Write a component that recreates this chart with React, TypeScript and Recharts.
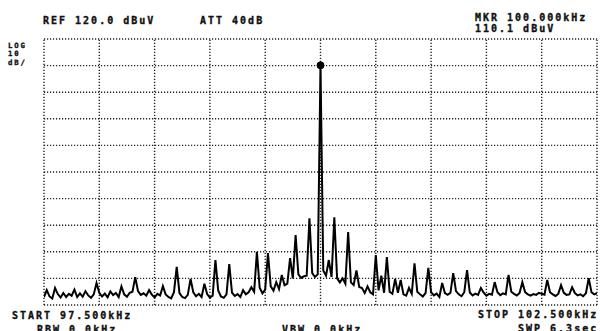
import React from "react";
import { LineChart, Line, XAxis, YAxis, ReferenceLine, ReferenceDot } from "recharts";

const START_KHZ = 97.5;
const STOP_KHZ = 102.5;
const REF_DBUV = 120;
const BOTTOM_DBUV = 20;

const freqGridTicks = [97.5, 98, 98.5, 99, 99.5, 100, 100.5, 101, 101.5, 102, 102.5];
const levelGridTicks = [120, 110, 100, 90, 80, 70, 60, 50, 40, 30, 20];

// trace levels in dBuV, 201 sweep points from START to STOP
const traceLevels = [
  23.0, 25.6, 23.2, 22.4, 26.4, 24.1, 22.8, 24.5, 23.0, 24.2,
  23.5, 25.8, 23.0, 24.4, 23.1, 25.2, 23.6, 22.7, 24.0, 28.3,
  24.6, 23.2, 24.3, 22.9, 25.1, 23.7, 24.5, 23.0, 27.0, 24.0,
  23.1, 24.6, 25.0, 30.5, 25.2, 23.8, 24.4, 23.5, 25.6, 23.9,
  22.8, 24.2, 23.6, 27.1, 24.0, 23.0, 22.5, 24.8, 34.3, 24.5,
  23.0, 22.6, 23.8, 29.8, 24.8, 23.3, 24.2, 23.0, 28.0, 24.1,
  22.8, 23.5, 36.9, 25.5, 23.2, 22.7, 24.0, 35.4, 24.6, 23.4,
  24.1, 23.0, 25.6, 24.0, 24.8, 26.7, 25.0, 40.0, 26.5, 24.4,
  25.8, 39.5, 27.0, 25.4, 28.6, 26.0, 31.3, 27.4, 28.0, 37.6,
  30.0, 46.3, 31.5, 30.2, 30.8, 31.0, 52.6, 32.0, 30.5, 31.5,
  110.1, 33.0, 31.0, 36.9, 30.5, 53.0, 30.0, 28.5, 30.0, 28.0,
  47.4, 28.5, 27.5, 33.0, 26.8, 26.4, 24.5, 27.0, 24.8, 24.0,
  38.8, 25.5, 31.0, 24.6, 38.0, 25.0, 24.2, 29.8, 24.6, 29.4,
  24.0, 23.5, 26.4, 24.2, 35.7, 25.0, 24.0, 23.2, 24.5, 34.0,
  24.8, 23.6, 24.3, 23.0, 28.3, 24.5, 23.8, 24.6, 32.0, 25.2,
  24.0, 23.3, 24.8, 33.1, 24.7, 23.6, 24.3, 23.8, 26.4, 24.6,
  23.5, 24.2, 23.9, 28.6, 24.8, 23.7, 24.4, 24.0, 31.3, 25.0,
  24.2, 23.6, 24.5, 28.6, 24.8, 24.0, 23.5, 24.1, 23.8, 24.6,
  24.2, 23.9, 29.4, 24.8, 24.0, 23.4, 24.2, 27.5, 24.6, 23.8,
  24.0, 26.7, 24.5, 23.6, 24.0, 23.3, 24.4, 30.1, 24.8, 24.0,
  24.5,
];

const markerFreq = 100.0;
const markerLevel = 110.1;

const headerLeft = "REF 120.0 dBuV";
const headerAtt = "ATT 40dB";
const markerLine1 = "MKR 100.000kHz";
const markerLine2 = "110.1 dBuV";
const scaleLabels = ["LOG", "10", "dB/"];
const startLabel = "START 97.500kHz";
const stopLabel = "STOP 102.500kHz";
const rbwLabel = "RBW 0.0kHz";
const vbwLabel = "VBW 0.0kHz";
const swpLabel = "SWP 6.3sec";

const data = traceLevels.map((v, i) => ({
  f: START_KHZ + (i * (STOP_KHZ - START_KHZ)) / (traceLevels.length - 1),
  v,
}));

const txt: React.CSSProperties = {
  fontFamily: "'DejaVu Sans Mono', monospace",
  fontWeight: 700,
  fontSize: 10,
  letterSpacing: 2,
  fill: "#111",
  stroke: "#111",
  strokeWidth: 0.35,
};

export default function App() {
  return (
    <div style={{ position: "absolute", left: 0, top: 0, width: 600, height: 331, background: "#fff", overflow: "hidden" }}>
      <LineChart
        width={600}
        height={331}
        data={data}
        margin={{ top: 39, right: 3, bottom: 26, left: 44 }}
      >
        <XAxis dataKey="f" type="number" domain={[START_KHZ, STOP_KHZ]} hide allowDataOverflow />
        <YAxis type="number" domain={[BOTTOM_DBUV, REF_DBUV]} hide allowDataOverflow />
        {freqGridTicks.map((t) => (
          <ReferenceLine key={"vx" + t} x={t} stroke="#222" strokeWidth={1.4} strokeDasharray="1.2 1.8" />
        ))}
        {levelGridTicks.map((t) => (
          <ReferenceLine key={"hy" + t} y={t} stroke="#222" strokeWidth={1.4} strokeDasharray="1.2 1.8" />
        ))}
        <Line
          type="linear"
          dataKey="v"
          stroke="#000"
          strokeWidth={2}
          dot={false}
          isAnimationActive={false}
        />
        <ReferenceDot x={markerFreq} y={markerLevel} r={3.5} fill="#000" stroke="#000" />
      </LineChart>
      <svg width={600} height={331} style={{ position: "absolute", left: 0, top: 0, pointerEvents: "none" }}>
        <text x={43} y={24} style={txt}>{headerLeft}</text>
        <text x={200} y={24} style={txt}>{headerAtt}</text>
        <text x={475} y={21} style={txt}>{markerLine1}</text>
        <text x={475} y={31.5} style={txt}>{markerLine2}</text>
        {scaleLabels.map((s, i) => (
          <text key={s} x={8} y={47.6 + i * 8.5} style={{ ...txt, fontSize: 7.3, letterSpacing: 1.9 }}>{s}</text>
        ))}
        <text x={12} y={318.5} style={txt}>{startLabel}</text>
        <text x={478} y={317.5} style={txt}>{stopLabel}</text>
        <text x={37} y={333} style={txt}>{rbwLabel}</text>
        <text x={282} y={333} style={txt}>{vbwLabel}</text>
        <text x={518} y={331.5} style={txt}>{swpLabel}</text>
      </svg>
    </div>
  );
}
